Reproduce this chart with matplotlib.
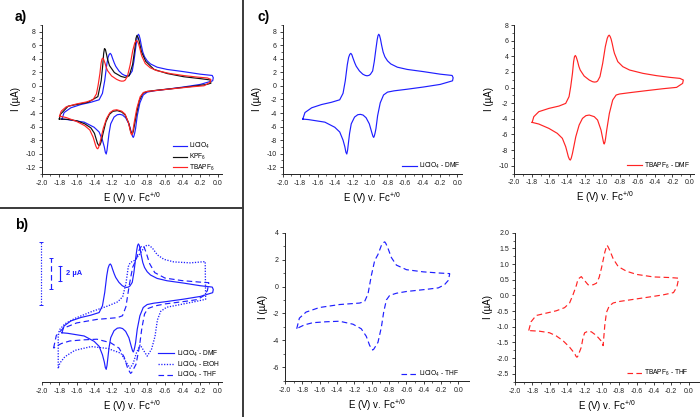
import matplotlib
matplotlib.use("Agg")
import numpy as np
import matplotlib.pyplot as plt
from matplotlib.lines import Line2D

plt.rcParams['font.family'] = ['Liberation Sans', 'DejaVu Sans']
plt.rcParams['mathtext.fontset'] = 'custom'
plt.rcParams['mathtext.rm'] = 'Liberation Sans'
plt.rcParams['mathtext.it'] = 'Liberation Sans:italic'
plt.rcParams['mathtext.bf'] = 'Liberation Sans:bold'
plt.rcParams['lines.scale_dashes'] = False

W, H = 700, 417
BLUE = '#1f1fff'
RED = '#ff2424'
BLACK = '#111111'
DASH = (0, (4, 2.4))
DOT = (0, (0.9, 1.1))

# --- CV data (E in V vs Fc+/0, I in uA); upper branch left->right, lower branch right->left ---
li_dmf_E = [-1.77, -1.745, -1.668, -1.555, -1.442, -1.347, -1.309, -1.283, -1.26, -1.245, -1.232,
            -1.22, -1.208, -1.195, -1.175, -1.158, -1.121, -1.083, -1.055, -1.034, -1.012, -0.996,
            -0.97, -0.951, -0.932, -0.918, -0.909, -0.9, -0.891, -0.88, -0.867, -0.85, -0.83,
            -0.8, -0.762, -0.687, -0.574, -0.385, -0.196, -0.06, -0.048,
            -0.055, -0.196, -0.385, -0.574, -0.725, -0.8, -0.845, -0.883, -0.913, -0.932, -0.942,
            -0.951, -0.958, -0.966, -0.977, -1.008, -1.045, -1.08, -1.11, -1.14, -1.177, -1.215,
            -1.234, -1.247, -1.257, -1.266, -1.276, -1.288, -1.309, -1.347, -1.404, -1.517,
            -1.706, -1.77]
li_dmf_I = [-4.9, -3.93, -3.23, -2.75, -2.42, -2.05, -1.1, 0.78, 3.14, 4.2, 4.65,
            4.8, 4.6, 4.1, 3.4, 2.9, 2.2, 1.73, 1.55, 1.49, 1.55, 1.7,
            2.2, 3.61, 5.5, 6.8, 7.4, 7.62, 7.45, 6.9, 6.0, 5.0, 4.3,
            3.7, 3.24, 2.76, 2.43, 2.1, 1.73, 1.54, 1.2,
            0.75, 0.22, -0.16, -0.49, -0.73, -0.92, -1.34, -2.5, -4.4, -6.3, -6.95,
            -7.4, -7.6, -7.45, -7.0, -5.6, -4.7, -4.3, -4.2, -4.25, -4.6, -5.6,
            -7.0, -8.4, -9.5, -10.05, -9.8, -9.0, -8.0, -6.8, -6.1, -5.35,
            -4.97, -4.9]

tba_dmf_E = [-1.797, -1.778, -1.721, -1.606, -1.491, -1.415, -1.377, -1.358, -1.338, -1.325, -1.315,
             -1.305, -1.295, -1.281, -1.265, -1.25, -1.205, -1.147, -1.11, -1.09, -1.068, -1.052,
             -1.025, -0.994, -0.964, -0.942, -0.93, -0.92, -0.91, -0.898, -0.885, -0.87, -0.86,
             -0.822, -0.765, -0.688, -0.535, -0.382, -0.229, -0.115, -0.076,
             -0.084, -0.153, -0.306, -0.497, -0.688, -0.803, -0.841, -0.88, -0.918, -0.948, -0.962,
             -0.97, -0.977, -0.985, -0.994, -1.013, -1.052, -1.09, -1.147, -1.185, -1.224, -1.262,
             -1.3, -1.338, -1.352, -1.362, -1.372, -1.385, -1.4, -1.415, -1.453, -1.511, -1.606,
             -1.721, -1.797]
tba_dmf_I = [-4.46, -3.73, -3.09, -2.67, -2.37, -2.03, -1.17, 0.11, 1.81, 3.3, 3.95,
             4.1, 3.9, 3.4, 2.7, 2.24, 1.47, 0.96, 0.75, 0.7, 0.72, 0.83,
             1.39, 3.09, 5.23, 6.3, 6.6, 6.7, 6.55, 6.2, 5.6, 4.8, 4.37,
             3.31, 2.67, 2.24, 1.81, 1.52, 1.3, 1.17, 0.96,
             0.53, 0.02, -0.15, -0.4, -0.66, -0.83, -0.96, -1.6, -3.31, -5.44, -6.6,
             -7.05, -7.23, -7.0, -6.5, -5.44, -4.16, -3.73, -3.52, -3.6, -3.95, -4.8,
             -6.29, -8.43, -9.05, -9.28, -9.2, -8.85, -8.2, -7.57, -6.5, -5.86, -5.23,
             -4.67, -4.46]

kpf_dmf_E = [-1.8, -1.785, -1.699, -1.474, -1.361, -1.323, -1.305, -1.295, -1.286, -1.276, -1.265,
             -1.25, -1.229, -1.173, -1.098, -1.053, -1.004, -0.966, -0.94, -0.928, -0.917, -0.905,
             -0.891, -0.878, -0.865, -0.816, -0.722, -0.571, -0.383, -0.195, -0.083, -0.075,
             -0.12, -0.306, -0.497, -0.69, -0.8, -0.85, -0.89, -0.92, -0.945, -0.958, -0.967,
             -0.976, -0.99, -1.01, -1.05, -1.09, -1.14, -1.19, -1.23, -1.27, -1.3, -1.325,
             -1.338, -1.35, -1.365, -1.4, -1.44, -1.51, -1.6, -1.7, -1.8]
kpf_dmf_I = [-4.88, -4.17, -2.99, -2.42, -1.58, 0.78, 3.14, 4.8, 5.5, 5.4, 4.8,
             3.9, 3.0, 1.96, 1.4, 1.25, 1.49, 3.14, 5.5, 7.0, 7.45, 7.2,
             6.6, 5.8, 5.03, 3.61, 2.43, 1.82, 1.35, 1.07, 0.88, 0.4,
             0.22, -0.1, -0.38, -0.64, -0.82, -1.1, -2.2, -4.0, -5.8, -6.7, -7.05,
             -7.1, -6.6, -5.5, -4.3, -3.85, -3.65, -3.75, -4.2, -5.3, -6.9, -8.3,
             -8.75, -8.8, -8.5, -7.0, -6.2, -5.6, -5.15, -4.95, -4.88]

li_thf_E = [-1.865, -1.834, -1.757, -1.602, -1.371, -1.139, -1.081, -1.042, -1.004, -0.965, -0.927,
            -0.888, -0.862, -0.849, -0.836, -0.811, -0.772, -0.714, -0.598, -0.405, -0.212, -0.1,
            -0.1, -0.115, -0.16, -0.23, -0.367, -0.598, -0.714, -0.792, -0.83, -0.861, -0.888,
            -0.927, -0.975, -0.988, -1.0, -1.023, -1.062, -1.12, -1.216, -1.371, -1.525, -1.68,
            -1.776, -1.834, -1.865]
li_thf_I = [-3.14, -2.35, -1.9, -1.56, -1.34, -1.23, -1.11, -0.55, 0.8, 1.93, 2.38,
            3.05, 3.27, 3.32, 3.2, 2.83, 2.15, 1.59, 1.25, 1.09, 1.0, 0.96,
            0.91, 0.46, 0.13, -0.1, -0.21, -0.37, -0.5, -0.66, -1.0, -1.9, -3.03,
            -4.15, -4.65, -4.72, -4.62, -4.38, -3.7, -3.14, -2.8, -2.58, -2.62, -2.69,
            -2.85, -3.03, -3.14]

tba_thf_E = [-1.842, -1.815, -1.757, -1.68, -1.525, -1.429, -1.371, -1.332, -1.293, -1.274, -1.246,
             -1.236, -1.222, -1.197, -1.158, -1.1, -1.062, -1.031, -1.004, -0.965, -0.947, -0.938,
             -0.928, -0.907, -0.869, -0.811, -0.714, -0.598, -0.405, -0.212, -0.116,
             -0.116, -0.135, -0.174, -0.29, -0.405, -0.598, -0.792, -0.869, -0.915, -0.946, -0.965,
             -0.985, -1.004, -1.042, -1.081, -1.12, -1.158, -1.197, -1.216, -1.236, -1.275, -1.286,
             -1.297, -1.313, -1.371, -1.448, -1.525, -1.602, -1.718, -1.842]
tba_thf_I = [-1.12, -0.84, -0.64, -0.59, -0.49, -0.39, -0.24, 0.02, 0.32, 0.52, 0.58,
             0.6, 0.55, 0.47, 0.34, 0.34, 0.39, 0.57, 0.87, 1.38, 1.55, 1.6,
             1.55, 1.43, 1.17, 0.92, 0.77, 0.67, 0.59, 0.57, 0.55,
             0.52, 0.27, 0.09, 0.02, -0.03, -0.11, -0.19, -0.24, -0.34, -0.54, -0.94,
             -1.6, -1.46, -1.34, -1.24, -1.16, -1.14, -1.19, -1.34, -1.65, -1.93, -1.97,
             -1.94, -1.85, -1.65, -1.44, -1.29, -1.19, -1.14, -1.12]

li_etoh_E = [-1.812, -1.812, -1.8, -1.737, -1.624, -1.436, -1.248, -1.135, -1.079, -1.041, -1.015,
             -0.993, -0.948, -0.891, -0.835, -0.81, -0.79, -0.77, -0.74, -0.684, -0.609, -0.497,
             -0.308, -0.14,
             -0.135, -0.25, -0.45, -0.58, -0.647, -0.684, -0.711, -0.75, -0.8, -0.85, -0.88,
             -0.92, -0.96, -0.995, -1.03, -1.098, -1.248, -1.436, -1.624, -1.737, -1.794, -1.812]
li_etoh_I = [-2.2, -1.21, -1.0, -0.81, -0.64, -0.43, -0.25, -0.12, 0.04, 0.46, 0.98,
             1.11, 1.17, 1.35, 1.58, 1.64, 1.66, 1.63, 1.56, 1.35, 1.21, 1.13,
             1.1, 1.14,
             -0.04, -0.11, -0.22, -0.29, -0.42, -0.69, -1.2, -1.6, -1.82, -1.6, -1.47,
             -1.7, -2.05, -2.2, -2.05, -1.73, -1.58, -1.52, -1.64, -1.84, -2.04, -2.2]

# display factors used in panel b (each scale bar = 2 uA)
thf_factor = 2.25
etoh_factor = 4.5

xlabel = r'E (V) v. Fc$^{+/0}$'
ylabel = 'I (µA)'

fig = plt.figure(figsize=(W / 100, H / 100), dpi=100)


def box(x0, x1, ytop, ybot):
    return [x0 / W, 1 - ybot / H, (x1 - x0) / W, (ybot - ytop) / H]


def style(ax, xlim, ylim, ystep, show_y=True):
    ax.set_xlim(*xlim)
    ax.set_ylim(*ylim)
    for s in ['top', 'right']:
        ax.spines[s].set_visible(False)
    for s in ['left', 'bottom']:
        ax.spines[s].set_linewidth(0.7)
        ax.spines[s].set_color('#222222')
    ax.set_xticks([round(-2.0 + 0.2 * i, 1) for i in range(11)])
    ax.set_xticklabels(['%.1f' % (-2.0 + 0.2 * i) for i in range(11)])
    ax.set_xticks([round(-2.0 + 0.1 * i, 2) for i in range(21)], minor=True)
    ax.tick_params(which='major', direction='out', length=2.0, width=0.6, labelsize=5.0,
                   pad=2.3, colors='#222222')
    ax.tick_params(which='minor', direction='out', length=1.2, width=0.5, colors='#222222')
    ax.set_xlabel(xlabel, fontsize=7, labelpad=2.2)
    if show_y:
        lo = ystep * np.ceil(ylim[0] / ystep - 1e-9)
        ticks = np.arange(lo, ylim[1] + 1e-9, ystep)
        ax.set_yticks(ticks)
        if ystep < 1:
            ax.set_yticklabels(['%.1f' % t for t in ticks])
        else:
            ax.set_yticklabels(['%d' % round(t) for t in ticks])
        ax.set_yticks(np.arange(lo - ystep / 2, ylim[1] + 1e-9, ystep / 2), minor=True)
        ax.set_ylabel(ylabel, fontsize=7, labelpad=3)
    else:
        ax.spines['left'].set_visible(False)
        ax.set_yticks([])
        ax.set_yticks([], minor=True)


def legend(ax, x, y, hl=2.1):
    ax.legend(loc='upper left', bbox_to_anchor=(x / W, 1 - y / H), bbox_transform=fig.transFigure,
              frameon=False, fontsize=4.8, handlelength=hl, handletextpad=0.35, labelspacing=0.1,
              borderpad=0, borderaxespad=0)


# --- panel a ---
ax_a = fig.add_axes(box(41.7, 221.9, 24.9, 174))
ax_a.plot(li_dmf_E, li_dmf_I, color=BLUE, lw=0.85, label=r'LiClO$_4$')
ax_a.plot(kpf_dmf_E, kpf_dmf_I, color=BLACK, lw=0.85, label=r'KPF$_6$')
ax_a.plot(tba_dmf_E, tba_dmf_I, color=RED, lw=0.85, label=r'TBAPF$_6$')
style(ax_a, (-2.0, 0.05), (-12, 9), 2)
legend(ax_a, 173.3, 141.0, hl=2.0)

# --- panel b ---
ax_b = fig.add_axes(box(41.7, 221.9, 230, 381.7))
ax_b.plot(li_dmf_E, li_dmf_I, color=BLUE, lw=0.85, label=r'LiClO$_4$ - DMF')
ax_b.plot(li_etoh_E, [v * etoh_factor for v in li_etoh_I], color=BLUE, lw=0.95, linestyle=DOT,
          label=r'LiClO$_4$ - EtOH')
ax_b.plot(li_thf_E, [v * thf_factor for v in li_thf_I], color=BLUE, lw=0.85, linestyle=DASH,
          label=r'LiClO$_4$ - THF')
style(ax_b, (-2.0, 0.05), (-11.79, 9.58), 2, show_y=False)
legend(ax_b, 158.3, 348.5, hl=2.4)

# scale bars (2 uA for each trace)
bar_mid = 3.45
for xb, fac, ls in [(-2.01, etoh_factor, DOT), (-1.898, thf_factor, DASH), (-1.797, 1.0, '-')]:
    ax_b.plot([xb, xb], [bar_mid - fac, bar_mid + fac], color=BLUE, lw=0.85, linestyle=ls,
              clip_on=False)
    ax_b.plot([xb, xb], [bar_mid - fac, bar_mid + fac], linestyle='none', marker='_',
              markersize=3.2, markeredgewidth=0.7, color=BLUE, clip_on=False)
ax_b.text(-1.72, bar_mid, '2 µA', color=BLUE, fontsize=5.4, fontweight='bold',
          ha='left', va='center')

# --- panel c ---
ax_c1 = fig.add_axes(box(282.7, 461.7, 24.9, 174))
ax_c1.plot(li_dmf_E, li_dmf_I, color=BLUE, lw=0.85, label=r'LiClO$_4$ - DMF')
style(ax_c1, (-2.0, 0.05), (-12, 9), 2)
legend(ax_c1, 401.7, 161.0, hl=2.3)

ax_c2 = fig.add_axes(box(514.3, 694.4, 25, 173.5))
ax_c2.plot(tba_dmf_E, tba_dmf_I, color=RED, lw=0.85, label=r'TBAPF$_6$ - DMF')
style(ax_c2, (-2.0, 0.05), (-11, 8), 2)
legend(ax_c2, 626.7, 160.7, hl=2.3)

ax_c3 = fig.add_axes(box(285, 469.3, 232.7, 380.7))
ax_c3.plot(li_thf_E, li_thf_I, color=BLUE, lw=0.85, linestyle=DASH, label=r'LiClO$_4$ - THF')
style(ax_c3, (-2.0, 0.127), (-6, 4), 2)
legend(ax_c3, 401, 369, hl=2.3)

ax_c4 = fig.add_axes(box(515, 699, 232.7, 381.7))
ax_c4.plot(tba_thf_E, tba_thf_I, color=RED, lw=0.85, linestyle=DASH, label=r'TBAPF$_6$ - THF')
style(ax_c4, (-2.0, 0.12), (-2.5, 2.0), 0.5)
legend(ax_c4, 626.7, 368, hl=2.3)

# panel letters
fig.text(15 / W, 1 - 17 / H, 'a)', fontsize=10, fontweight='bold', va='center', ha='left')
fig.text(15 / W, 1 - 225 / H, 'b)', fontsize=10, fontweight='bold', va='center', ha='left')
fig.text(258 / W, 1 - 17 / H, 'c)', fontsize=10, fontweight='bold', va='center', ha='left')

# separators
fig.add_artist(Line2D([243.3 / W, 243.3 / W], [0, 1], transform=fig.transFigure,
                      color='#3a3a3a', lw=1.4))
fig.add_artist(Line2D([0, 243.3 / W], [1 - 208.3 / H, 1 - 208.3 / H], transform=fig.transFigure,
                      color='#3a3a3a', lw=1.4))

fig.savefig('out.png', dpi=100)
